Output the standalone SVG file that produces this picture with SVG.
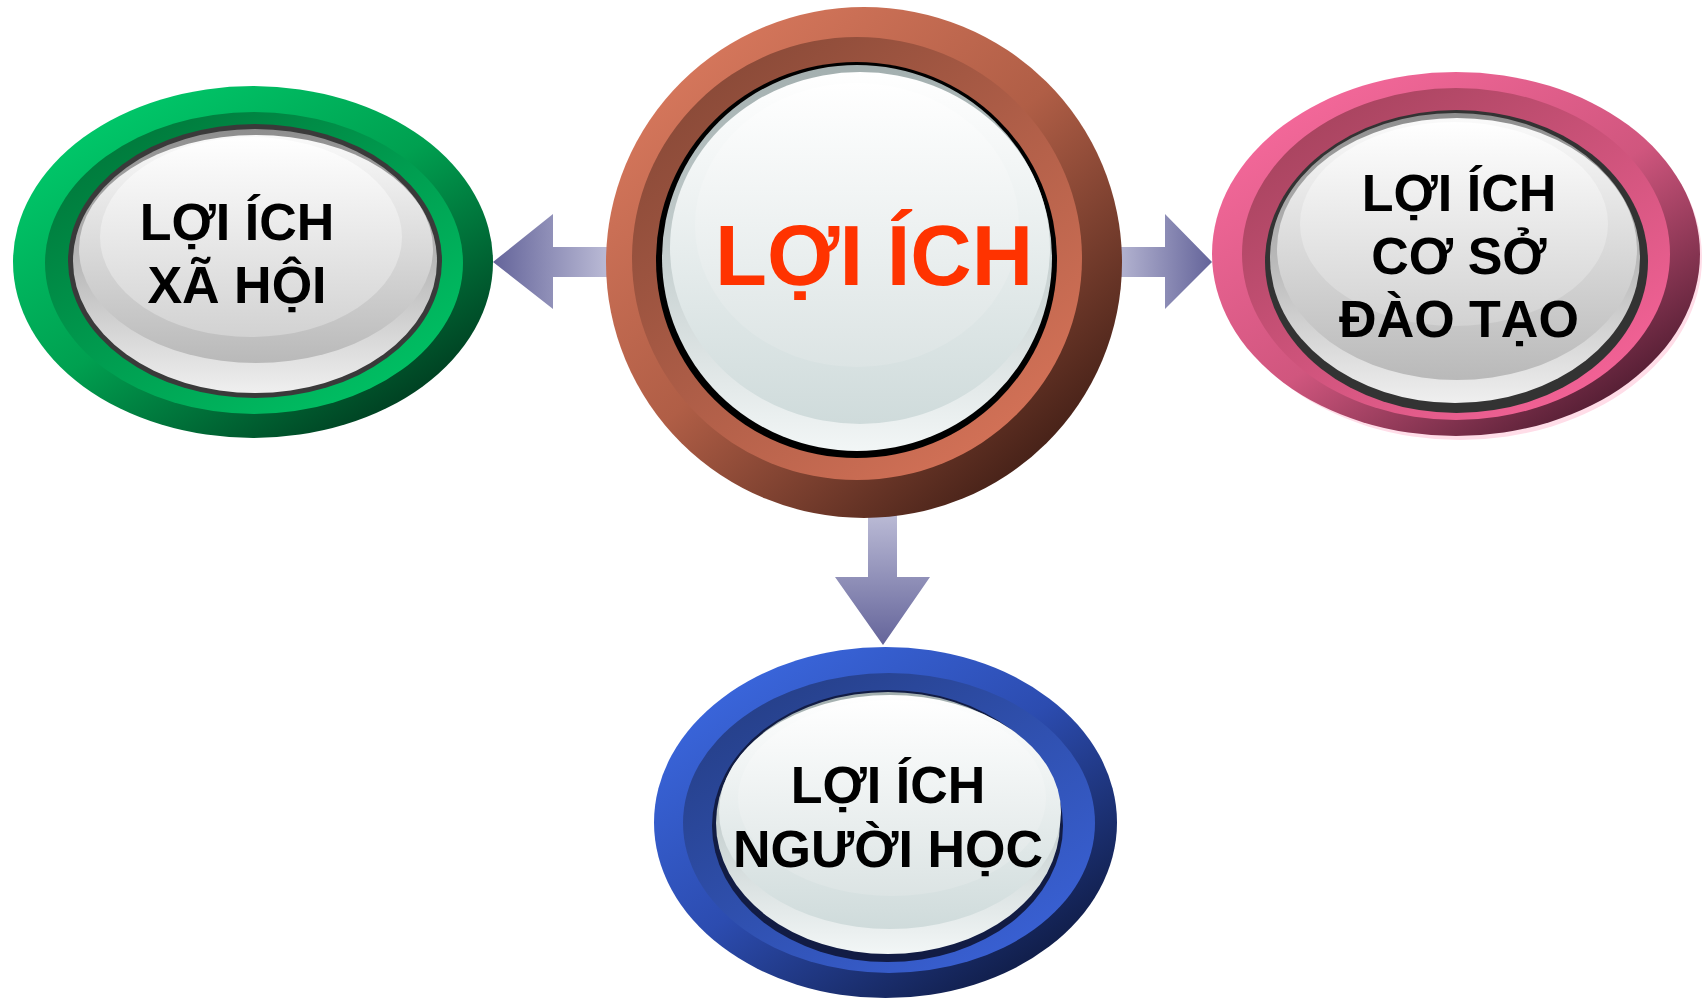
<svg xmlns="http://www.w3.org/2000/svg" width="1703" height="998" viewBox="0 0 1703 998">
<defs>
<linearGradient id="gOuter" x1="0.15" y1="0.1" x2="0.9" y2="0.95"><stop offset="0" stop-color="#00c86a"/><stop offset="0.45" stop-color="#00a050"/><stop offset="1" stop-color="#00301a"/></linearGradient>
<linearGradient id="gBand" x1="0.15" y1="0.1" x2="0.9" y2="0.95"><stop offset="0" stop-color="#007a3c"/><stop offset="1" stop-color="#00c466"/></linearGradient>
<linearGradient id="cOuter" x1="0.15" y1="0.1" x2="0.9" y2="0.95"><stop offset="0" stop-color="#d6775c"/><stop offset="0.45" stop-color="#b05e46"/><stop offset="1" stop-color="#341710"/></linearGradient>
<linearGradient id="cBand" x1="0.15" y1="0.1" x2="0.9" y2="0.95"><stop offset="0" stop-color="#8a4a38"/><stop offset="1" stop-color="#d87459"/></linearGradient>
<linearGradient id="pOuter" x1="0.15" y1="0.1" x2="0.9" y2="0.95"><stop offset="0" stop-color="#f4689a"/><stop offset="0.5" stop-color="#d0567e"/><stop offset="1" stop-color="#3e1426"/></linearGradient>
<linearGradient id="pBand" x1="0.15" y1="0.1" x2="0.9" y2="0.95"><stop offset="0" stop-color="#a8445f"/><stop offset="1" stop-color="#f8649a"/></linearGradient>
<linearGradient id="bOuter" x1="0.15" y1="0.1" x2="0.9" y2="0.95"><stop offset="0" stop-color="#3a66dc"/><stop offset="0.45" stop-color="#2c4cb0"/><stop offset="1" stop-color="#0c1638"/></linearGradient>
<linearGradient id="bBand" x1="0.15" y1="0.1" x2="0.9" y2="0.95"><stop offset="0" stop-color="#26408a"/><stop offset="1" stop-color="#3a62d8"/></linearGradient>
<linearGradient id="baseGray" x1="0" y1="0" x2="0" y2="1"><stop offset="0" stop-color="#8e8e8e"/><stop offset="0.5" stop-color="#b8b8b8"/><stop offset="1" stop-color="#efefef"/></linearGradient>
<linearGradient id="faceGray" x1="0" y1="0" x2="0" y2="1"><stop offset="0" stop-color="#fafafa"/><stop offset="1" stop-color="#b9b9b9"/></linearGradient>
<linearGradient id="hiGray" x1="0" y1="0" x2="0" y2="1"><stop offset="0" stop-color="#ffffff"/><stop offset="1" stop-color="#d2d2d2"/></linearGradient>
<linearGradient id="baseTeal" x1="0" y1="0" x2="0" y2="1"><stop offset="0" stop-color="#a3afaf"/><stop offset="0.5" stop-color="#c6d0d0"/><stop offset="1" stop-color="#f2f6f6"/></linearGradient>
<linearGradient id="faceTeal" x1="0" y1="0" x2="0" y2="1"><stop offset="0" stop-color="#ffffff"/><stop offset="1" stop-color="#cfdbdb"/></linearGradient>
<linearGradient id="hiTeal" x1="0" y1="0" x2="0" y2="1"><stop offset="0" stop-color="#ffffff"/><stop offset="1" stop-color="#dce4e4"/></linearGradient>
<linearGradient id="arrL" x1="0" y1="0" x2="1" y2="0"><stop offset="0" stop-color="#64649a"/><stop offset="1" stop-color="#c4c4dc"/></linearGradient>
<linearGradient id="arrR" x1="0" y1="0" x2="1" y2="0"><stop offset="0" stop-color="#c4c4dc"/><stop offset="1" stop-color="#64649a"/></linearGradient>
<linearGradient id="arrD" x1="0" y1="0" x2="0" y2="1"><stop offset="0" stop-color="#c4c4dc"/><stop offset="1" stop-color="#64649a"/></linearGradient>
</defs>
<style>
.t{font-family:"Liberation Sans",Arial,sans-serif;font-weight:bold;text-anchor:middle;fill:#000}
.tc{font-family:"Liberation Sans",Arial,sans-serif;font-weight:bold;text-anchor:middle;fill:#ff3300}
</style>
<rect width="1703" height="998" fill="#ffffff"/>
<g id="connectors">
<polygon points="493,262 553,214 553,247 620,247 620,277 553,277 553,309" fill="url(#arrL)"/>
<polygon points="1100,247 1165,247 1165,214 1212,262 1165,309 1165,277 1100,277" fill="url(#arrR)"/>
<polygon points="868,500 897,500 897,577 930,577 883,645 835,577 868,577" fill="url(#arrD)"/>
</g>
<g id="node-xa-hoi">
<ellipse cx="253" cy="262" rx="240" ry="176" fill="url(#gOuter)"/>
<ellipse cx="254" cy="263" rx="209" ry="151" fill="url(#gBand)"/>
<ellipse cx="255" cy="261" rx="187" ry="137" fill="#3a3a3a"/>
<ellipse cx="255" cy="261" rx="182" ry="132" fill="url(#baseGray)"/>
<ellipse cx="256" cy="249" rx="177" ry="114" fill="url(#faceGray)"/>
<ellipse cx="251" cy="237" rx="151" ry="100" fill="url(#hiGray)"/>
<text class="t" x="237" y="240" font-size="52">LỢI ÍCH</text>
<text class="t" x="237" y="303" font-size="52">XÃ HỘI</text>
</g>
<g id="node-co-so">
<ellipse cx="1460" cy="258" rx="242" ry="182" fill="#ffdde8"/>
<ellipse cx="1456" cy="254" rx="244" ry="182" fill="url(#pOuter)"/>
<ellipse cx="1456" cy="254" rx="214" ry="166" fill="url(#pBand)"/>
<ellipse cx="1456.5" cy="261.5" rx="191.5" ry="151.5" fill="#333333"/>
<ellipse cx="1455" cy="258" rx="185" ry="145" fill="url(#baseGray)"/>
<ellipse cx="1457" cy="249" rx="180" ry="131" fill="url(#faceGray)"/>
<ellipse cx="1454" cy="224" rx="154" ry="102" fill="url(#hiGray)"/>
<text class="t" x="1459" y="211" font-size="52">LỢI ÍCH</text>
<text class="t" x="1459" y="274" font-size="52">CƠ SỞ</text>
<text class="t" x="1459" y="337" font-size="52">ĐÀO TẠO</text>
</g>
<g id="node-nguoi-hoc">
<ellipse cx="885.5" cy="822.5" rx="231.5" ry="175.5" fill="url(#bOuter)"/>
<ellipse cx="889" cy="823" rx="206" ry="150" fill="url(#bBand)"/>
<ellipse cx="887.5" cy="826" rx="175.5" ry="136" fill="#121c44"/>
<ellipse cx="888" cy="823" rx="172" ry="131" fill="url(#baseTeal)"/>
<ellipse cx="890" cy="812" rx="171" ry="117" fill="url(#faceTeal)"/>
<ellipse cx="892" cy="798" rx="154" ry="98" fill="url(#hiTeal)"/>
<text class="t" x="888" y="803" font-size="52">LỢI ÍCH</text>
<text class="t" x="888" y="867" font-size="52">NGƯỜI HỌC</text>
</g>
<g id="node-loi-ich">
<ellipse cx="864" cy="262.5" rx="258" ry="255.5" fill="url(#cOuter)"/>
<ellipse cx="857" cy="258.5" rx="225" ry="221.5" fill="url(#cBand)"/>
<ellipse cx="856.5" cy="260" rx="200.5" ry="198" fill="#000000"/>
<ellipse cx="857" cy="258" rx="195" ry="193" fill="url(#baseTeal)"/>
<ellipse cx="860" cy="248" rx="190" ry="176" fill="url(#faceTeal)"/>
<ellipse cx="857" cy="225" rx="162" ry="142" fill="url(#hiTeal)"/>
<text class="tc" x="874" y="285" font-size="85">LỢI ÍCH</text>
</g>
</svg>
